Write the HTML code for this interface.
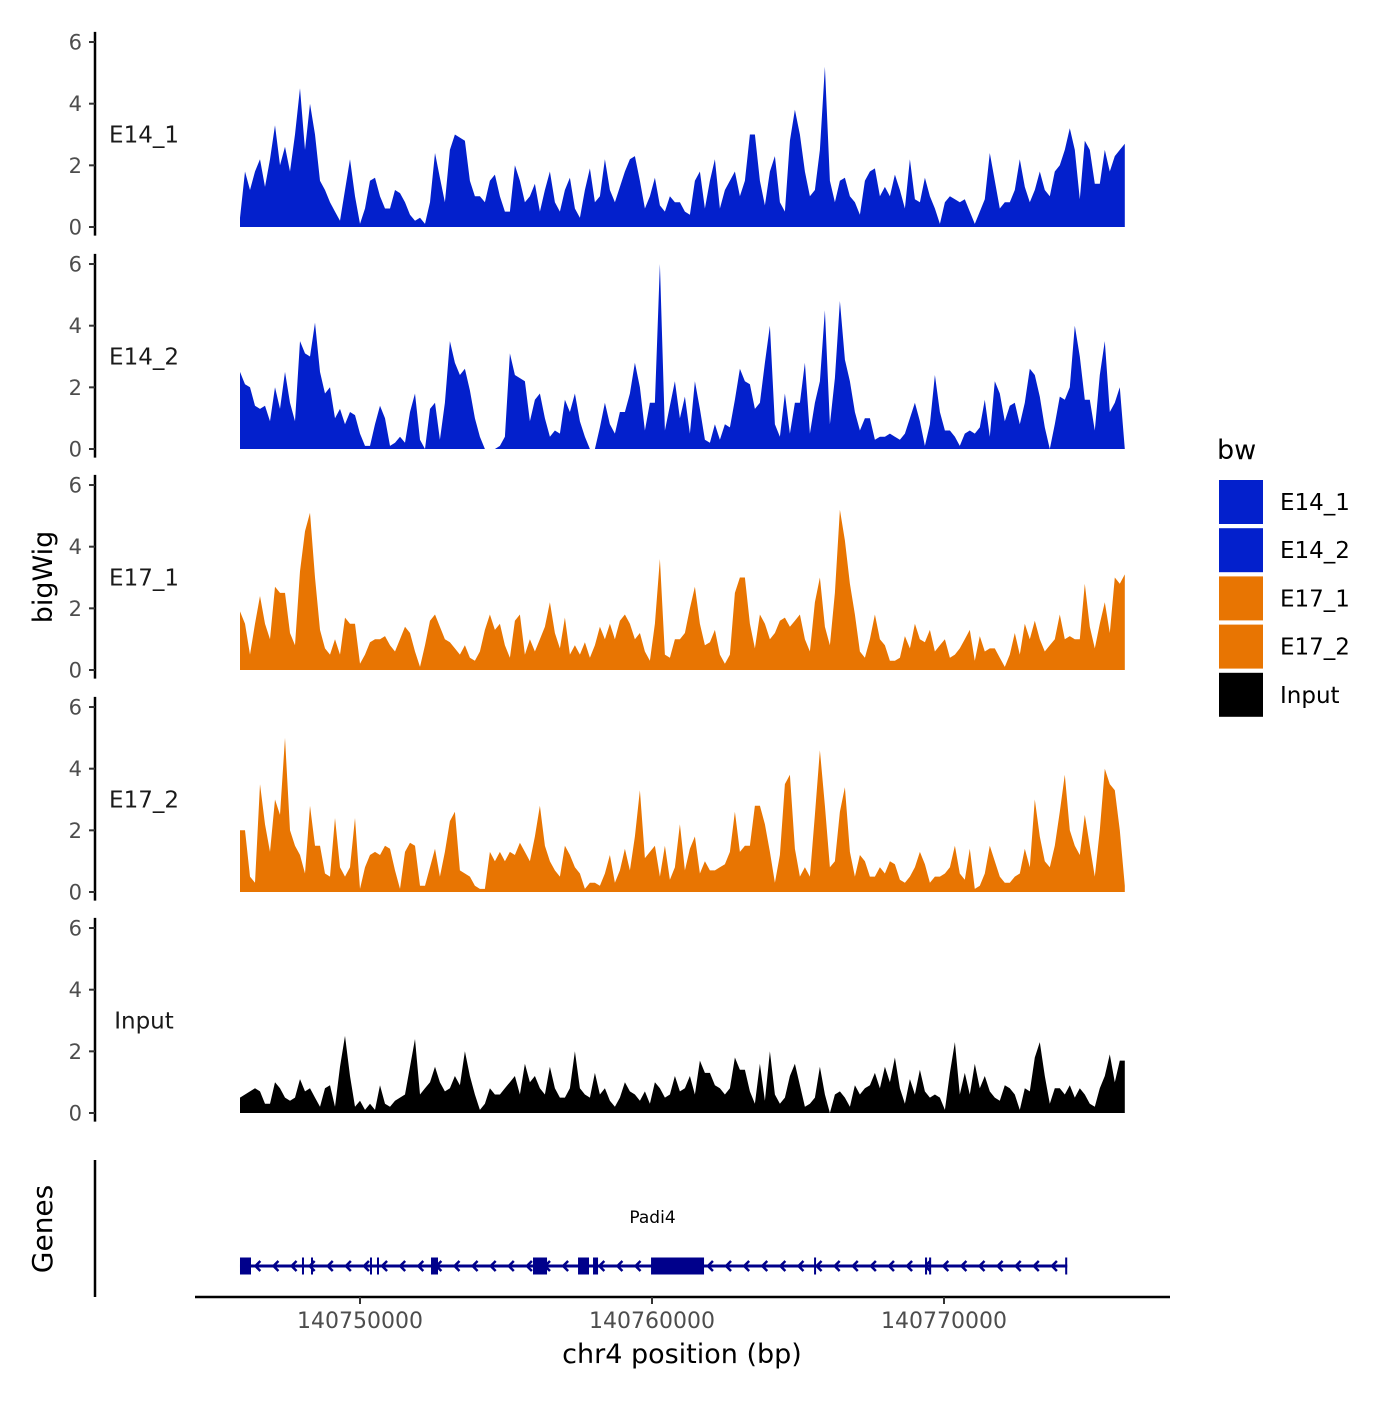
<!DOCTYPE html>
<html><head><meta charset="utf-8"><style>
body{margin:0;background:#fff}
svg text{font-family:"DejaVu Sans","Liberation Sans",sans-serif}
</style></head><body>
<svg id="chart" width="1400" height="1400" xmlns="http://www.w3.org/2000/svg">
<rect width="1400" height="1400" fill="#fff"/>
</svg>
<script>
const binStart = 140745890;
const binWidth = 171.2;
const trackNames = ["E14_1","E14_2","E17_1","E17_2","Input"];
const trackColors = ["#0320CC","#0320CC","#E87502","#E87502","#000000"];
const yTicks = [0,2,4,6];
const xTicks = [140750000,140760000,140770000];
const xTickLabels = ["140750000","140760000","140770000"];
const e14_1 = [0.3,1.8,1.2,1.8,2.2,1.3,2.2,3.3,2.0,2.6,1.8,3.0,4.5,2.5,4.0,3.0,1.5,1.2,0.8,0.5,0.2,1.2,2.2,1.0,0.1,0.6,1.5,1.6,1.0,0.6,0.6,1.2,1.1,0.8,0.4,0.2,0.3,0.1,0.8,2.4,1.6,0.8,2.5,3.0,2.9,2.8,1.5,1.0,1.0,0.8,1.5,1.7,1.0,0.5,0.5,2.0,1.5,0.8,1.0,1.4,0.5,1.2,1.8,0.8,0.5,1.2,1.6,0.6,0.3,1.2,1.9,0.8,1.0,2.2,1.2,0.8,1.3,1.8,2.2,2.3,1.5,0.6,1.0,1.6,0.7,0.5,1.0,0.8,0.8,0.5,0.4,1.5,1.8,0.6,1.5,2.2,0.6,1.2,1.5,1.8,1.0,1.5,3.0,3.0,1.5,0.7,1.8,2.3,0.8,0.5,2.8,3.8,3.0,1.8,1.0,1.2,2.5,5.2,1.5,0.8,1.5,1.6,1.0,0.8,0.4,1.5,1.8,1.9,1.0,1.3,1.0,1.7,1.2,0.6,2.2,0.9,0.8,1.6,1.0,0.6,0.1,0.8,1.0,0.9,0.8,0.9,0.5,0.1,0.5,0.9,2.4,1.5,0.6,0.8,0.8,1.2,2.2,1.3,0.8,1.2,1.8,1.2,1.0,1.8,2.0,2.5,3.2,2.5,0.9,2.8,2.5,1.4,1.4,2.5,1.8,2.3,2.5,2.7];
const e14_2 = [2.5,2.1,2.0,1.4,1.3,1.4,0.9,2.0,1.3,2.5,1.5,0.9,3.5,3.1,3.0,4.1,2.5,1.8,2.0,1.0,1.3,0.8,1.2,1.1,0.5,0.1,0.1,0.8,1.4,1.0,0.1,0.2,0.4,0.2,1.2,1.8,0.3,0.0,1.3,1.5,0.3,1.5,3.5,2.8,2.4,2.6,1.9,1.0,0.4,0.0,0.0,0.0,0.1,0.4,3.1,2.4,2.3,2.2,0.9,1.6,1.8,1.0,0.4,0.6,0.5,1.6,1.2,1.8,0.9,0.4,0.0,0.0,0.7,1.5,0.8,0.5,1.2,1.2,1.8,2.8,2.0,0.6,1.5,1.5,6.0,0.6,1.4,2.2,1.0,1.7,0.5,2.2,1.3,0.3,0.2,0.8,0.3,0.8,0.7,1.6,2.6,2.2,2.1,1.3,1.5,2.8,4.0,0.8,0.4,1.8,0.5,1.5,1.5,2.8,0.5,1.5,2.2,4.5,0.8,2.3,4.8,2.9,2.2,1.2,0.6,1.0,1.0,0.3,0.4,0.4,0.5,0.4,0.3,0.5,1.0,1.5,0.9,0.1,0.8,2.4,1.2,0.6,0.6,0.4,0.1,0.5,0.6,0.5,0.7,1.6,0.4,2.2,1.8,0.9,1.4,1.5,0.8,1.5,2.6,2.4,1.7,0.7,0.0,0.8,1.7,1.6,2.0,4.0,3.0,1.6,1.6,0.6,2.4,3.5,1.2,1.5,2.0,0.0];
const e17_1 = [1.9,1.5,0.5,1.5,2.4,1.5,1.0,2.7,2.5,2.5,1.2,0.8,3.2,4.5,5.1,3.0,1.3,0.7,0.5,1.0,0.5,1.7,1.5,1.5,0.2,0.5,0.9,1.0,1.0,1.1,0.8,0.6,1.0,1.4,1.2,0.6,0.1,0.8,1.6,1.8,1.4,1.0,0.9,0.7,0.5,0.8,0.4,0.3,0.6,1.3,1.8,1.3,1.5,0.8,0.4,1.6,1.8,0.5,1.0,0.6,1.0,1.4,2.2,1.2,0.7,1.7,0.5,0.8,0.5,0.9,0.4,0.8,1.4,1.0,1.5,1.0,1.6,1.8,1.5,1.0,1.2,0.6,0.3,1.5,3.6,0.5,0.4,1.0,1.0,1.2,2.0,2.7,1.5,0.8,0.9,1.3,0.5,0.2,0.5,2.5,3.0,3.0,1.5,0.7,1.8,1.5,1.0,1.2,1.6,1.7,1.4,1.6,1.8,1.0,0.6,2.2,3.0,1.4,0.8,2.5,5.2,4.2,2.8,1.8,0.6,0.4,1.0,1.8,1.0,0.8,0.3,0.3,0.4,1.1,0.7,1.5,1.0,0.9,1.3,0.6,0.8,1.0,0.4,0.5,0.7,1.0,1.3,0.3,1.1,0.6,0.7,0.7,0.4,0.1,0.5,1.2,0.5,1.5,1.0,1.6,1.0,0.6,0.8,1.0,1.8,1.0,1.1,1.0,1.0,2.8,1.4,0.7,1.5,2.2,1.2,3.0,2.8,3.1];
const e17_2 = [2.0,2.0,0.5,0.3,3.5,2.2,1.3,3.0,2.5,5.0,2.0,1.5,1.2,0.6,2.8,1.5,1.5,0.6,0.5,2.4,0.8,0.5,0.8,2.4,0.1,0.8,1.2,1.3,1.2,1.5,1.4,0.7,0.1,1.3,1.6,1.5,0.2,0.2,0.8,1.4,0.5,1.3,2.3,2.6,0.7,0.6,0.5,0.2,0.1,0.1,1.3,1.0,1.3,1.0,1.3,1.2,1.6,1.3,1.0,1.8,2.8,1.5,1.0,0.7,0.5,1.5,1.2,0.8,0.6,0.1,0.3,0.3,0.2,0.6,1.2,0.3,0.7,1.4,0.7,1.8,3.3,1.1,1.3,1.5,0.5,1.5,0.4,0.8,2.2,0.7,1.4,1.8,0.6,1.0,0.7,0.7,0.8,0.9,1.3,2.6,1.3,1.5,1.5,2.8,2.8,2.2,1.3,0.3,1.2,3.5,3.8,1.4,0.5,0.8,0.5,2.5,4.6,2.8,0.8,1.0,2.6,3.4,1.3,0.5,1.2,1.0,0.5,0.5,0.8,0.6,1.0,0.9,0.4,0.3,0.5,0.8,1.3,0.9,0.3,0.5,0.5,0.6,0.8,1.5,0.6,0.4,1.4,0.1,0.2,0.6,1.5,1.0,0.5,0.3,0.3,0.5,0.6,1.4,0.8,3.0,1.8,1.0,0.8,1.5,2.6,3.8,2.0,1.5,1.2,2.5,1.5,0.5,2.0,4.0,3.5,3.3,2.0,0.2];
const inputVals = [0.5,0.6,0.7,0.8,0.7,0.3,0.3,1.0,0.8,0.5,0.4,0.5,1.1,0.7,0.8,0.5,0.2,0.8,0.9,0.2,1.5,2.5,1.2,0.2,0.4,0.1,0.3,0.1,0.9,0.3,0.2,0.4,0.5,0.6,1.5,2.4,0.6,0.8,1.0,1.5,1.0,0.7,0.8,1.2,0.9,2.0,1.2,0.6,0.1,0.3,0.8,0.6,0.6,0.8,1.0,1.2,0.6,1.6,1.0,1.2,0.8,0.6,1.5,0.8,0.5,0.5,0.8,2.0,0.8,0.6,0.5,1.3,0.6,0.8,0.4,0.2,0.5,1.0,0.7,0.6,0.4,0.7,0.3,1.0,0.8,0.5,0.6,1.2,0.7,0.8,1.2,0.6,1.7,1.3,1.3,0.9,0.8,0.6,0.8,1.8,1.4,1.4,0.7,0.3,1.6,0.4,2.0,0.6,0.3,0.5,1.2,1.6,0.9,0.2,0.3,0.5,1.5,0.6,0.0,0.6,0.7,0.5,0.2,0.9,0.6,0.8,0.9,1.3,0.8,1.5,1.0,1.8,0.8,0.3,1.1,0.6,1.4,0.7,0.5,0.6,0.5,0.1,1.3,2.3,0.6,1.3,0.6,1.6,0.8,1.2,0.7,0.5,0.4,0.9,0.8,0.6,0.1,0.8,0.7,1.8,2.3,1.2,0.3,0.8,0.8,0.6,0.9,0.5,0.8,0.6,0.3,0.2,0.8,1.2,1.9,1.0,1.7,1.7];
const geneName = "Padi4";
const geneStart = 140745890;
const geneEnd = 140774220;
const exonStarts = [140745890,140748013,140748322,140750342,140750582,140752432,140755925,140757467,140757980,140759967,140765550,140769350,140769490,140774150];
const exonEnds   = [140746267,140748080,140748390,140750410,140750650,140752671,140756405,140757843,140758152,140761782,140765610,140769420,140769560,140774220];

const NS="http://www.w3.org/2000/svg";
const svg=document.getElementById('chart');
function mk(tag,attrs,parent){const e=document.createElementNS(NS,tag);for(const k in attrs)e.setAttribute(k,attrs[k]);(parent||svg).appendChild(e);return e;}
const xScale = bp => 360 + (bp-140750000)*0.0292;
const panelZero = [227,449,670,892,1113];
const unit = 30.83;
const allVals=[e14_1,e14_2,e17_1,e17_2,inputVals];

trackNames.forEach((name,t)=>{
  const z=panelZero[t];
  const y=v=>z-v*unit;
  const g=mk('g',{});
  
  
  const vals=allVals[t];
  let d='M'+xScale(binStart).toFixed(1)+','+z;
  vals.forEach((v,i)=>{d+=' L'+xScale(binStart+i*binWidth).toFixed(1)+','+y(v).toFixed(1);});
  d+=' L'+xScale(binStart+(vals.length-1)*binWidth).toFixed(1)+','+z+' Z';
  const p=mk('path',{d:d,fill:trackColors[t]},g);
  
  
  const ax=mk('line',{x1:95,x2:95,y1:y(6.33),y2:y(-0.28),stroke:'#000','stroke-width':2.5},g);
  
  
  yTicks.forEach(v=>{
    mk('line',{x1:89,x2:95,y1:y(v),y2:y(v),stroke:'#333','stroke-width':2},g);
    const tx=mk('text',{x:82,y:y(v)+7.5,'text-anchor':'end','font-size':21,fill:'#4d4d4d'},g);
    tx.textContent=v;
    
    
  });
  const lb=mk('text',{x:144,y:y(3)+8,'text-anchor':'middle','font-size':23,fill:'#1a1a1a'},g);
  lb.textContent=name;
  
  
});

// genes panel
const gg=mk('g',{});


mk('line',{x1:95,x2:95,y1:1160,y2:1297,stroke:'#000','stroke-width':2.5},gg);
const gy=1266, gc='#00008B';
mk('line',{x1:xScale(geneStart),x2:xScale(geneEnd),y1:gy,y2:gy,stroke:gc,'stroke-width':3},gg);
for(let bp=geneStart+560;bp<geneEnd-300;bp+=620){
  const x=xScale(bp);
  mk('polyline',{points:(x+4)+','+(gy-5)+' '+(x-1)+','+gy+' '+(x+4)+','+(gy+5),fill:'none',stroke:gc,'stroke-width':2.5},gg);
}
exonStarts.forEach((s,i)=>{
  const x1=xScale(s),x2=xScale(exonEnds[i]);
  const r=mk('rect',{x:x1,y:gy-8.5,width:Math.max(2,x2-x1),height:17,fill:gc},gg);
  
  
});
const gn=mk('text',{x:xScale((exonStarts[9]+exonEnds[9])/2)-25,y:1223,'text-anchor':'middle','font-size':17,fill:'#000'},gg);
gn.textContent=geneName;



// x axis
const xa=mk('g',{});


mk('line',{x1:195,x2:1170,y1:1297,y2:1297,stroke:'#000','stroke-width':2.5},xa);
xTicks.forEach((v,i)=>{
  mk('line',{x1:xScale(v),x2:xScale(v),y1:1297,y2:1304,stroke:'#333','stroke-width':2},xa);
  const t=mk('text',{x:xScale(v),y:1328,'text-anchor':'middle','font-size':22,fill:'#4d4d4d'},xa);
  t.textContent=xTickLabels[i];
  
  
});
const xt=mk('text',{x:682,y:1363,'text-anchor':'middle','font-size':27,fill:'#000'});
xt.textContent='chr4 position (bp)';


const yt=mk('text',{x:0,y:0,'text-anchor':'middle','font-size':27,fill:'#000',transform:'translate(52,577) rotate(-90)'});
yt.textContent='bigWig';


const gt=mk('text',{x:0,y:0,'text-anchor':'middle','font-size':28,fill:'#000',transform:'translate(52,1229) rotate(-90)'});
gt.textContent='Genes';



// legend
const lg=mk('g',{});


const lt=mk('text',{x:1217,y:459,'font-size':27,fill:'#000'},lg);
lt.textContent='bw';
const legendColors=["#0320CC","#0320CC","#E87502","#E87502","#000000"];
trackNames.forEach((n,i)=>{
  const yy=479+i*48.2;
  const r=mk('rect',{x:1218,y:yy,width:46,height:46,fill:legendColors[i],stroke:'#fff','stroke-width':2},lg);
  
  
  const t=mk('text',{x:1280,y:yy+31,'font-size':23,fill:'#000'},lg);
  t.textContent=n;
  
  
});
</script>
</body></html>
